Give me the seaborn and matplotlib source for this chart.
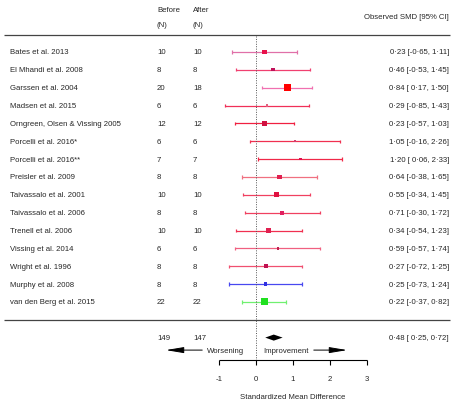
import numpy as np
import pandas as pd
import matplotlib
matplotlib.use("Agg")
import matplotlib.pyplot as plt
import seaborn as sns

studies = ["Bates et al. 2013", "El Mhandi et al. 2008", "Garssen et al. 2004",
           "Madsen et al. 2015", "Orngreen, Olsen & Vissing 2005", "Porcelli et al. 2016*",
           "Porcelli et al. 2016**", "Preisler et al. 2009", "Taivassalo et al. 2001",
           "Taivassalo et al. 2006", "Trenell et al. 2006", "Vissing et al. 2014",
           "Wright et al. 1996", "Murphy et al. 2008", "van den Berg et al. 2015"]
n_before = [10, 8, 20, 6, 12, 6, 7, 8, 10, 8, 10, 6, 8, 8, 22]
n_after = [10, 8, 18, 6, 12, 6, 7, 8, 10, 8, 10, 6, 8, 8, 22]
smd = [0.23, 0.46, 0.84, 0.29, 0.23, 1.05, 1.20, 0.64, 0.55, 0.71, 0.34, 0.59, 0.27, 0.25, 0.22]
ci_low = [-0.65, -0.53, 0.17, -0.85, -0.57, -0.16, 0.06, -0.38, -0.34, -0.30, -0.54, -0.57, -0.72, -0.73, -0.37]
ci_high = [1.11, 1.45, 1.50, 1.43, 1.03, 2.26, 2.33, 1.65, 1.45, 1.72, 1.23, 1.74, 1.25, 1.24, 0.82]
weights = [4.0, 2.5, 7.0, 2.0, 5.0, 2.0, 2.0, 3.5, 4.5, 3.0, 4.0, 2.0, 3.5, 2.5, 7.0]
line_colors = ["#e070a8", "#f04070", "#f070b0", "#f03058", "#f02040", "#f03050", "#f02848",
               "#f07080", "#f04060", "#f04060", "#f03050", "#f06080", "#f05070", "#4848f0", "#70f070"]
marker_colors = ["#e8104a", "#c0105a", "#ff0000", "#e06080", "#d01040", "#d04070", "#e01050",
                 "#e02050", "#e01040", "#e02060", "#e02050", "#c02050", "#c01050", "#3030e0", "#20e020"]
total_before, total_after = 149, 147
pooled, pooled_low, pooled_high = 0.48, 0.25, 0.72
xticks = [-1, 0, 1, 2, 3]

def fmt(v):
    s = f"{abs(v):.2f}".replace(".", "\u00b7")
    return ("-" if v < 0 else " ") + s if v < 0 or True else s

def fmt_ci(m, lo, hi):
    def f(v):
        s = f"{abs(v):.2f}".replace(".", "\u00b7")
        return "-" + s if v < 0 else "\u2007" + s if False else (" " + s if v >= 0 else s)
    ms = f"{m:.2f}".replace(".", "\u00b7")
    lo_s = f"{abs(lo):.2f}".replace(".", "\u00b7")
    lo_s = ("-" if lo < 0 else " ") + lo_s
    hi_s = f"{hi:.2f}".replace(".", "\u00b7")
    return f"{ms} [{lo_s}, {hi_s}]"

sns.set_theme(style="white")
plt.rcParams["font.family"] = ["Liberation Sans", "DejaVu Sans"]

fig = plt.figure(figsize=(4.54, 4.06), dpi=100)
ax = fig.add_axes([0, 0, 1, 1])
ax.set_xlim(-256 / 37, (454 - 256) / 37)
ax.set_ylim((406 - 53) / 17.85, -53 / 17.85)
ax.axis("off")

rows = np.arange(len(studies))
df = pd.DataFrame({"study": studies, "smd": smd, "row": rows, "weight": weights})

fs = 5.6
# CI lines and caps
for r, lo, hi, c in zip(rows, ci_low, ci_high, line_colors):
    ax.hlines(r, lo, hi, color=c, lw=0.9)
    ax.vlines([lo, hi], r - 0.09, r + 0.09, color=c, lw=0.9)

sns.scatterplot(data=df, x="smd", y="row", hue="study",
                palette=dict(zip(studies, marker_colors)), size="weight",
                sizes=(3, 26), marker="s", linewidth=0, legend=False, ax=ax, zorder=3)
ax.set_xlim(-256 / 37, (454 - 256) / 37)
ax.set_ylim((406 - 53) / 17.85, -53 / 17.85)
ax.axis("off")

x_lab = (10 - 256) / 37
x_bef = (157 - 256) / 37
x_aft = (193 - 256) / 37
x_right = (449 - 256) / 37

for r, s, b, a, m, lo, hi in zip(rows, studies, n_before, n_after, smd, ci_low, ci_high):
    ax.text(x_lab, r, s, fontsize=fs, va="center", ha="left")
    ax.text(x_bef, r, str(b), fontsize=fs, va="center", ha="left")
    ax.text(x_aft, r, str(a), fontsize=fs, va="center", ha="left")
    ax.text(x_right, r, fmt_ci(m, lo, hi), fontsize=fs, va="center", ha="right")

# headers
ax.text(x_bef, -2.4, "Before", fontsize=fs, va="center", ha="left")
ax.text(x_bef, -1.55, "(N)", fontsize=fs, va="center", ha="left")
ax.text(x_aft, -2.4, "After", fontsize=fs, va="center", ha="left")
ax.text(x_aft, -1.55, "(N)", fontsize=fs, va="center", ha="left")
ax.text(x_right, -1.97, "Observed SMD [95% CI]", fontsize=fs, va="center", ha="right")

x_l0 = (4 - 256) / 37
x_l1 = (450 - 256) / 37
ax.hlines([-0.98, 15.0], x_l0, x_l1, color="#444444", lw=0.9)

# reference line
ax.vlines(0, -0.9, 17.25, color="#555555", lw=0.7, linestyles=(0, (1, 1.5)))

# summary
ax.fill([pooled_low, pooled, pooled_high, pooled], [16.0, 15.83, 16.0, 16.17], color="black", lw=0)
ax.text(x_bef, 16.0, str(total_before), fontsize=fs, va="center", ha="left")
ax.text(x_aft, 16.0, str(total_after), fontsize=fs, va="center", ha="left")
ax.text(x_right, 16.0, fmt_ci(pooled, pooled_low, pooled_high), fontsize=fs, va="center", ha="right")

# arrows
ya = 16.7
ax.text((207 - 256) / 37, ya, "Worsening", fontsize=fs, va="center", ha="left")
ax.text((263 - 256) / 37, ya, "Improvement", fontsize=fs, va="center", ha="left")
ax.annotate("", xy=((163 - 256) / 37, ya), xytext=((205 - 256) / 37, ya),
            arrowprops=dict(arrowstyle="-|>,head_length=0.9,head_width=0.15", color="black", lw=0.7))
ax.annotate("", xy=((350 - 256) / 37, ya), xytext=((311 - 256) / 37, ya),
            arrowprops=dict(arrowstyle="-|>,head_length=0.9,head_width=0.15", color="black", lw=0.7))

# x axis
ya_ax = 17.25
ax.hlines(ya_ax, xticks[0], xticks[-1], color="black", lw=0.8)
ax.vlines(xticks, ya_ax, ya_ax + 0.3, color="black", lw=0.8)
for t in xticks:
    ax.text(t, 18.3, str(t), fontsize=fs, va="center", ha="center")
ax.text(1.0, 19.3, "Standardized Mean Difference", fontsize=fs, va="center", ha="center")

fig.savefig("out.png", dpi=100)
